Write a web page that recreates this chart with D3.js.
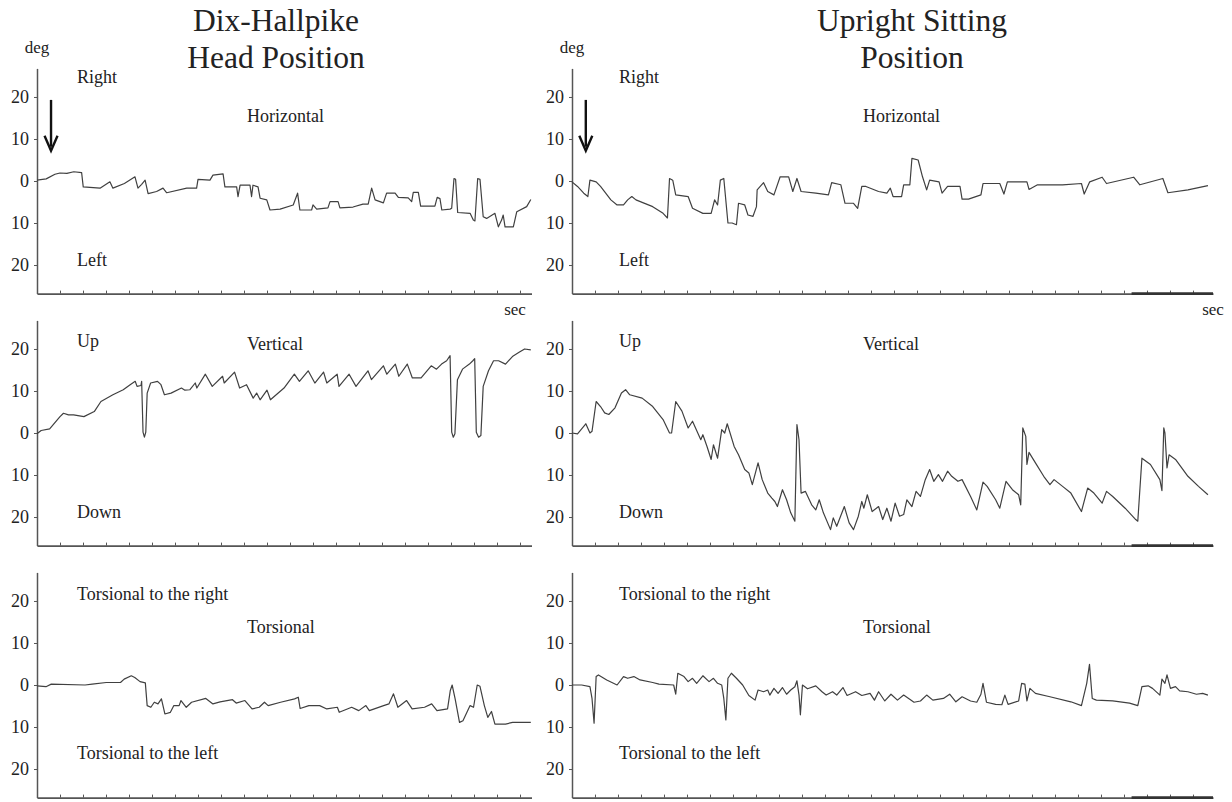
<!DOCTYPE html>
<html>
<head>
<meta charset="utf-8">
<script src="https://cdn.jsdelivr.net/npm/d3@7"></script>
<style>
  body { margin: 0; background: #fff; }
  svg text { font-family: "Liberation Serif", "Times New Roman", serif; fill: #222; }
</style>
</head>
<body>
<svg id="chart" width="1232" height="802"></svg>
<script>
// eye position traces, [time in sec, degrees]  (+ = right / up / torsional right)
var hallpikeH = [[0,0.2],[0.4,0.5],[0.78,1.6],[1.0,1.9],[1.3,1.8],[1.6,2.2],[1.94,2.0],[2.01,-1.4],[2.74,-1.7],[3.17,-0.2],[3.30,-1.7],[3.8,-0.6],[4.26,1.0],[4.39,-1.7],[4.55,-0.8],[4.70,0.2],[4.83,-3.0],[5.2,-2.5],[5.48,-1.7],[5.64,-2.8],[6.51,-1.7],[6.94,-1.7],[7.0,0.4],[7.52,0.2],[7.65,1.4],[8.09,1.7],[8.17,-1.4],[8.68,-1.4],[8.74,-3.7],[8.83,-1.0],[9.26,-1.0],[9.33,-3.7],[9.39,-1.0],[9.61,-1.4],[9.70,-4.1],[9.99,-4.5],[10.13,-6.9],[10.57,-6.7],[11.14,-5.7],[11.33,-2.9],[11.43,-6.9],[11.94,-6.9],[12.0,-5.7],[12.16,-6.7],[12.65,-6.4],[12.74,-4.9],[13.09,-4.9],[13.17,-6.4],[13.74,-6.2],[14.17,-5.5],[14.40,-5.5],[14.55,-1.7],[14.70,-4.5],[15.06,-5.2],[15.20,-2.9],[15.57,-2.9],[15.71,-3.9],[16.14,-4.0],[16.29,-4.9],[16.36,-2.7],[16.58,-2.7],[16.68,-6.0],[17.30,-6.0],[17.40,-3.9],[17.52,-4.2],[17.60,-6.9],[17.96,-6.7],[18.03,-6.5],[18.13,0.6],[18.20,0.4],[18.29,-7.5],[18.83,-7.7],[18.97,-9.3],[19.04,-9.5],[19.16,0.6],[19.26,0.4],[19.40,-8.5],[19.55,-8.9],[19.91,-7.7],[20.06,-10.9],[20.20,-9.3],[20.27,-8.1],[20.35,-10.9],[20.71,-10.9],[20.86,-7.3],[21.29,-6.1],[21.47,-4.4]];

var hallpikeV = [[0,-0.2],[0.18,0.6],[0.55,1.0],[1.0,3.9],[1.15,4.7],[1.37,4.3],[1.59,4.3],[2.04,3.9],[2.49,5.1],[2.78,7.5],[3.30,9.1],[3.75,10.3],[4.05,11.5],[4.27,12.3],[4.35,11.1],[4.52,11.3],[4.55,12.3],[4.61,0.2],[4.67,-1.0],[4.73,0.2],[4.79,9.5],[4.94,11.9],[5.24,12.3],[5.39,11.5],[5.54,9.1],[5.83,9.5],[6.28,10.7],[6.43,10.2],[6.65,10.3],[6.88,11.9],[6.95,10.7],[7.32,14.0],[7.62,11.1],[8.07,13.5],[8.14,11.9],[8.59,14.5],[8.81,10.7],[9.11,11.5],[9.40,8.3],[9.55,9.5],[9.70,7.9],[10.0,10.2],[10.15,7.9],[10.74,10.7],[11.19,14.0],[11.41,12.3],[11.79,14.8],[12.08,11.9],[12.46,14.5],[12.60,11.9],[13.05,14.0],[13.13,11.1],[13.57,14.0],[13.87,11.1],[14.39,14.8],[14.54,12.7],[15.06,16.0],[15.21,14.0],[15.58,16.4],[15.73,13.5],[16.1,16.4],[16.32,13.1],[16.7,13.1],[17.14,16.0],[17.37,15.2],[17.59,16.4],[17.81,17.2],[17.96,18.4],[18.03,0.2],[18.10,-1.0],[18.17,-0.2],[18.28,12.7],[18.5,15.2],[18.8,16.4],[18.95,17.2],[19.03,17.7],[19.10,0.2],[19.2,-1.0],[19.3,-0.6],[19.4,11.1],[19.63,14.8],[19.85,17.2],[20.07,17.2],[20.37,16.4],[20.67,18.2],[20.96,19.2],[21.2,20.0],[21.47,19.8]];

var hallpikeT = [[0,-0.2],[0.39,-0.4],[0.62,0.2],[2.09,0],[2.40,0.2],[3.01,0.6],[3.63,0.6],[3.79,1.4],[4.1,2.2],[4.25,1.8],[4.48,0.8],[4.71,0.5],[4.79,-4.9],[4.95,-5.3],[5.1,-4.1],[5.26,-4.5],[5.41,-3.3],[5.56,-6.9],[5.8,-6.5],[5.95,-4.9],[6.18,-4.9],[6.26,-3.7],[6.49,-5.3],[6.72,-4.1],[7.34,-3.2],[7.65,-4.5],[7.96,-4.0],[8.5,-3.5],[8.66,-4.3],[9.04,-3.7],[9.35,-5.7],[9.66,-5.3],[9.89,-4.1],[10.05,-4.9],[10.59,-4.1],[11.2,-3.3],[11.36,-2.9],[11.44,-5.6],[11.82,-4.9],[12.29,-4.9],[12.6,-5.7],[13.06,-5.3],[13.14,-6.5],[13.68,-5.3],[13.99,-6.1],[14.3,-4.9],[14.45,-6.1],[15.07,-4.9],[15.3,-4.5],[15.5,-2.1],[15.69,-5.3],[16.07,-3.7],[16.31,-5.7],[16.85,-5.3],[17.16,-4.5],[17.39,-6.1],[17.85,-5.7],[17.97,-1.3],[18.05,0],[18.18,-3.3],[18.37,-8.9],[18.52,-8.5],[18.83,-4.9],[18.98,-5.3],[19.14,0],[19.26,-0.3],[19.45,-4.9],[19.6,-7.7],[19.76,-6.3],[19.91,-9.3],[20.37,-9.3],[20.68,-8.9],[21.47,-8.9]];

var sittingH = [[0,-0.2],[0.24,-1.3],[0.51,-2.9],[0.69,-3.7],[0.78,0.2],[1.05,-0.2],[1.24,-1.3],[1.69,-4.5],[1.96,-5.7],[2.24,-5.7],[2.42,-4.5],[2.6,-3.7],[2.78,-4.5],[3.51,-6.1],[3.96,-7.7],[4.15,-8.8],[4.24,0.6],[4.38,0.2],[4.51,-3.3],[5.05,-3.7],[5.24,-6.5],[5.69,-7.7],[6.05,-7.7],[6.2,-4.5],[6.33,-5.7],[6.45,0.2],[6.6,0.6],[6.78,-10.0],[6.96,-10.0],[7.15,-10.4],[7.24,-5.3],[7.51,-5.7],[7.65,-8.1],[7.87,-8.4],[8.02,-6.1],[8.05,-2.1],[8.33,-0.4],[8.51,-2.5],[8.78,-3.3],[9.05,1.0],[9.42,1.0],[9.6,-2.5],[9.78,0.6],[9.96,-2.5],[10.6,-2.9],[11.15,-3.3],[11.29,-0.4],[11.69,-0.9],[11.87,-5.3],[12.24,-5.3],[12.42,-6.5],[12.6,-1.3],[12.78,-1.3],[13.33,-2.5],[13.69,-2.9],[13.84,-1.7],[13.96,-3.7],[14.33,-3.7],[14.42,-0.9],[14.69,-0.9],[14.78,5.4],[15.05,5.0],[15.24,1.0],[15.42,-2.1],[15.55,0.2],[15.96,-0.2],[16.09,-2.9],[16.33,-1.3],[16.87,-1.3],[16.96,-4.3],[17.24,-4.3],[17.78,-3.3],[17.87,-0.6],[18.6,-0.6],[18.78,-3.1],[18.93,-0.2],[19.78,-0.2],[19.87,-2.0],[20.24,-0.9],[21.33,-0.9],[22.15,-0.6],[22.27,-3.1],[22.51,-0.2],[23.05,0.9],[23.24,-0.6],[24.42,0.9],[24.69,-0.9],[25.69,0.6],[25.91,-2.8],[26.78,-2.1],[27.65,-1.1]];

var sittingV = [[0,0],[0.24,-0.2],[0.6,2.2],[0.78,0],[0.87,0.4],[1.05,7.5],[1.24,6.3],[1.42,4.8],[1.6,4.4],[1.87,6.0],[2.15,9.5],[2.33,10.3],[2.51,9.1],[3.05,8.3],[3.51,6.3],[3.96,3.2],[4.24,0],[4.33,0],[4.51,7.5],[4.78,5.2],[5.05,1.2],[5.24,2.8],[5.6,-1.6],[5.69,-0.4],[5.87,-3.2],[6.05,-6.3],[6.15,-2.8],[6.33,-6.0],[6.51,0.8],[6.64,0],[6.75,2.2],[7.05,-3.2],[7.24,-5.2],[7.51,-8.7],[7.69,-9.5],[7.84,-12.3],[8.09,-7.1],[8.27,-11.1],[8.51,-14.3],[8.69,-15.5],[8.82,-16.3],[8.93,-17.5],[9.15,-13.5],[9.33,-15.9],[9.51,-19.0],[9.69,-21.0],[9.78,2.0],[9.87,-1.6],[9.96,-14.3],[10.15,-13.9],[10.42,-17.1],[10.6,-18.3],[10.75,-15.9],[10.93,-19.0],[11.24,-23.0],[11.36,-20.2],[11.51,-22.2],[11.84,-17.5],[12.05,-21.4],[12.24,-23.0],[12.45,-19.8],[12.6,-16.3],[12.69,-17.9],[12.84,-14.7],[13.05,-18.7],[13.33,-17.5],[13.51,-20.6],[13.69,-17.9],[13.87,-21.0],[14.05,-16.7],[14.24,-19.8],[14.42,-19.4],[14.56,-15.9],[14.78,-17.5],[14.96,-13.9],[15.15,-15.1],[15.36,-11.1],[15.55,-8.7],[15.73,-11.5],[15.93,-9.9],[16.11,-11.5],[16.33,-9.1],[16.51,-10.3],[16.78,-11.5],[16.96,-11.1],[17.33,-15.1],[17.6,-18.3],[17.87,-11.7],[18.05,-12.7],[18.42,-15.9],[18.6,-17.9],[18.87,-11.5],[19.15,-13.5],[19.42,-14.7],[19.51,-17.1],[19.6,1.2],[19.73,-0.8],[19.78,-7.5],[19.87,-4.6],[20.15,-7.1],[20.51,-10.3],[20.78,-12.3],[20.96,-11.1],[21.33,-12.7],[21.69,-14.3],[22.15,-18.7],[22.42,-13.1],[22.69,-14.3],[23.05,-16.7],[23.24,-13.9],[23.51,-15.1],[24.05,-17.9],[24.51,-20.6],[24.6,-21.0],[24.78,-6.0],[25.15,-7.5],[25.56,-11.1],[25.65,-13.7],[25.73,1.2],[25.78,0],[25.87,-8.3],[25.96,-5.2],[26.24,-6.3],[26.78,-10.3],[27.24,-12.7],[27.65,-14.7]];

var sittingT = [[0,0],[0.42,0],[0.78,-0.4],[0.87,-3.2],[0.96,-9.1],[1.05,2.0],[1.15,2.4],[1.51,1.2],[1.96,0],[2.24,2.0],[2.42,1.6],[2.69,2.0],[2.96,1.2],[3.51,0.6],[3.78,0.2],[4.42,0],[4.51,-2.2],[4.6,2.8],[4.87,2.0],[5.05,0.8],[5.24,1.6],[5.42,0.4],[5.69,2.2],[5.96,0.8],[6.15,1.6],[6.33,0.4],[6.51,0],[6.6,-3.2],[6.69,-8.3],[6.78,1.6],[6.93,2.8],[7.15,1.6],[7.42,0],[7.69,-2.5],[7.96,-3.6],[8.09,-1.2],[8.33,-1.6],[8.51,-1.2],[8.6,-2.4],[8.78,-0.8],[8.96,-2.0],[9.15,-0.6],[9.33,-2.2],[9.51,-1.2],[9.69,-0.4],[9.78,1.0],[9.87,-2.4],[9.93,-7.1],[10.02,0],[10.24,-0.9],[10.6,-0.2],[10.87,-1.6],[11.05,-2.4],[11.33,-1.6],[11.51,-2.4],[11.78,-0.6],[11.96,-2.5],[12.33,-1.6],[12.6,-2.5],[12.96,-2.0],[13.15,-3.6],[13.33,-1.6],[13.6,-3.8],[13.87,-2.2],[14.15,-3.6],[14.42,-2.4],[14.87,-4.1],[15.15,-3.8],[15.42,-2.4],[15.69,-3.6],[16.15,-3.2],[16.42,-2.2],[16.69,-4.0],[16.96,-2.8],[17.33,-3.8],[17.6,-4.1],[17.78,-2.2],[17.87,0.4],[18.02,-4.1],[18.42,-4.6],[18.69,-4.7],[18.82,-2.4],[18.96,-4.6],[19.42,-3.8],[19.55,0.4],[19.69,0.2],[19.78,-3.8],[19.91,-0.8],[20.15,-2.0],[20.78,-2.8],[21.69,-4.0],[22.15,-4.9],[22.38,0.4],[22.5,4.9],[22.62,-3.2],[22.8,-3.6],[23.51,-3.8],[24.24,-4.3],[24.6,-4.9],[24.78,-0.4],[25.05,-0.2],[25.24,-0.8],[25.56,-2.4],[25.65,1.4],[25.78,0.4],[25.87,2.4],[26.02,-0.8],[26.24,-0.4],[26.42,-1.4],[26.78,-1.6],[27.15,-2.2],[27.42,-2.0],[27.65,-2.4]];

// text
var titles = [["Dix-Hallpike", "Head Position"], ["Upright Sitting", "Position"]];
var components = ["Horizontal", "Vertical", "Torsional"];
var topLabels = ["Right", "Up", "Torsional to the right"];
var bottomLabels = ["Left", "Down", "Torsional to the left"];
var yTicks = [-20, -10, 0, 10, 20];
var tMax = [21.5, 27.87];          // recording length per column (sec)
var arrowT = [0.61, 0.6];          // head-position onset arrow (sec)
var arrowDeg = [19.3, 7.2];        // arrow from / to (deg)
var yLimit = 26.8;

var traces = [[hallpikeH, hallpikeV, hallpikeT], [sittingH, sittingV, sittingT]];

// layout
var colX = [37, 572], colX1 = [531.5, 1213];
var titleX = [276, 912];
var sideLabelDx = [40, 47], midLabelDx = [210, 291];
var rowStep = 252, zeroY = 181, halfH = 112.6;
var topBase = [83, 347, 600], midBase = [122, 350, 633], botBase = [266, 518, 759];

var svg = d3.select("#chart");
var line = d3.line();

for (var c = 0; c < 2; c++) {
    var x = d3.scaleLinear().domain([0, tMax[c]]).range([colX[c], colX1[c]]);

    svg.append("text")
        .attr("x", titleX[c]).attr("y", 31)
        .attr("text-anchor", "middle").style("font-size", "31.5px")
        .text(titles[c][0]);
    svg.append("text")
        .attr("x", titleX[c]).attr("y", 68)
        .attr("text-anchor", "middle").style("font-size", "31.5px")
        .text(titles[c][1]);

    svg.append("text")
        .attr("x", colX[c]).attr("y", 53)
        .attr("text-anchor", "middle").style("font-size", "17px")
        .text("deg");

    for (var r = 0; r < 3; r++) {
        var y0 = zeroY + rowStep * r;
        var y = d3.scaleLinear().domain([-yLimit, yLimit]).range([y0 + halfH, y0 - halfH]);
        var g = svg.append("g");

        // y axis
        var ya = g.append("g")
            .attr("transform", "translate(" + colX[c] + ",0)")
            .call(d3.axisLeft(y).tickValues(yTicks).tickSize(3).tickPadding(5).tickSizeOuter(0)
                .tickFormat(function (d) { return Math.abs(d); }));
        ya.select(".domain").attr("stroke", "#555").attr("stroke-width", 1.5);
        ya.selectAll(".tick line").attr("stroke", "#555");
        ya.selectAll(".tick text").style("font-size", "18px").style("font-family", "Liberation Serif").attr("fill", "#222");

        // x axis (ticks pointing up)
        var xa = g.append("g")
            .attr("transform", "translate(0," + y(-yLimit) + ")")
            .call(d3.axisBottom(x).tickValues(d3.range(1, Math.floor(tMax[c]) + 1))
                .tickSize(-3).tickSizeOuter(0).tickFormat(""));
        xa.select(".domain").attr("stroke", "#555").attr("stroke-width", 1.6);
        xa.selectAll(".tick line").attr("stroke", "#555");

        if (c === 1) {
            g.append("line")
                .attr("x1", x(24.33)).attr("x2", x(tMax[c]))
                .attr("y1", y(-yLimit)).attr("y2", y(-yLimit))
                .attr("stroke", "#333").attr("stroke-width", 2.6);
        }

        // trace
        g.append("path")
            .datum(traces[c][r])
            .attr("d", line.x(function (d) { return x(d[0]); }).y(function (d) { return y(d[1]); }))
            .attr("fill", "none")
            .attr("stroke", "#404040")
            .attr("stroke-width", 1.2)
            .attr("stroke-linejoin", "round");

        g.append("text")
            .attr("x", colX[c] + sideLabelDx[c]).attr("y", topBase[r])
            .style("font-size", "18px").text(topLabels[r]);
        g.append("text")
            .attr("x", colX[c] + midLabelDx[c]).attr("y", midBase[r])
            .style("font-size", "18px").text(components[r]);
        g.append("text")
            .attr("x", colX[c] + sideLabelDx[c]).attr("y", botBase[r])
            .style("font-size", "18px").text(bottomLabels[r]);

        if (r === 0) {
            // onset arrow
            var ax = x(arrowT[c]), ay1 = y(arrowDeg[0]), ay2 = y(arrowDeg[1]);
            g.append("line")
                .attr("x1", ax).attr("x2", ax).attr("y1", ay1).attr("y2", ay2 - 4)
                .attr("stroke", "#111").attr("stroke-width", 2.4);
            g.append("path")
                .attr("d", "M" + (ax - 6.5) + "," + (ay2 - 15) + "L" + ax + "," + ay2 + "L" + (ax + 6.5) + "," + (ay2 - 15))
                .attr("fill", "none").attr("stroke", "#111").attr("stroke-width", 2.4);

            svg.append("text")
                .attr("x", c === 0 ? 515 : 1213).attr("y", 315)
                .attr("text-anchor", "middle").style("font-size", "17px")
                .text("sec");
        }
    }
}
</script>
</body>
</html>
